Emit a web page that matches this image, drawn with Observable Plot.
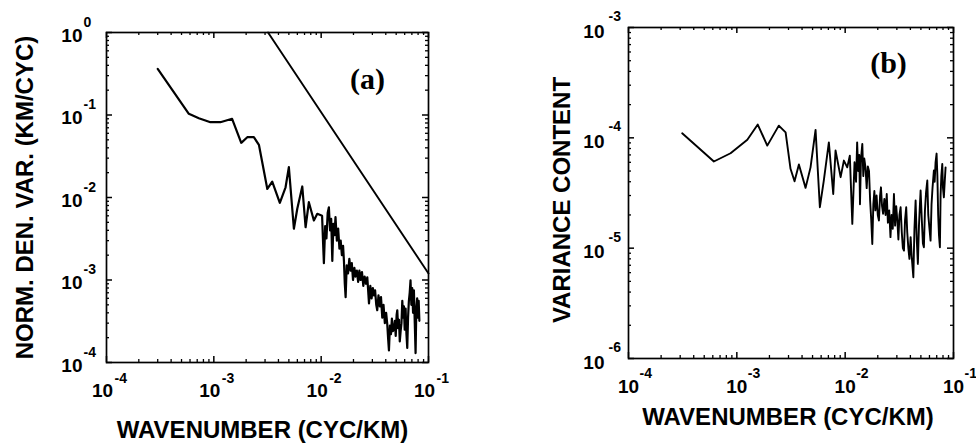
<!DOCTYPE html>
<html>
<head>
<meta charset="utf-8">
<script src="https://cdn.jsdelivr.net/npm/d3@7"></script>
<script src="https://cdn.jsdelivr.net/npm/@observablehq/plot@0.6"></script>
<style>
  body { margin: 0; background: #fff; }
  #wrap { display: flex; width: 976px; height: 443px; }
  #wrap svg { overflow: visible; }
</style>
</head>
<body>
<div id="wrap"></div>
<script>
// ---------- tick values and labels ----------
const xTicks = [1e-4, 1e-3, 1e-2, 1e-1];
const xTickExp = ["-4", "-3", "-2", "-1"];
const yTicksA = [1e-4, 1e-3, 1e-2, 1e-1, 1];
const yTickExpA = ["-4", "-3", "-2", "-1", "0"];
const yTicksB = [1e-6, 1e-5, 1e-4, 1e-3];
const yTickExpB = ["-6", "-5", "-4", "-3"];

// ---------- panel (a): normalized density variance spectrum ----------
const waveA = [3.0e-4, 5.85e-4, 7.25e-4, 9.3e-4, 1.15e-3, 1.48e-3, 1.80e-3, 2.05e-3, 2.36e-3, 2.63e-3,
  3.15e-3, 3.50e-3, 4.12e-3, 4.66e-3, 5.0e-3, 5.57e-3, 5.99e-3, 6.67e-3, 7.16e-3, 7.68e-3, 8.55e-3, 9.2e-3,
  0.0102, 0.0104, 0.0106, 0.0109, 0.0112, 0.0115, 0.0118, 0.0121, 0.0124, 0.0127, 0.0130, 0.0133, 0.0136,
  0.0140, 0.0144, 0.0148, 0.0152, 0.0156, 0.0160, 0.0163, 0.0166, 0.0169, 0.0173, 0.0178, 0.0183, 0.0188,
  0.0193, 0.0198, 0.0204, 0.0209, 0.0215, 0.0221, 0.0227, 0.0233, 0.0240, 0.0247, 0.0254, 0.0262, 0.0269,
  0.0279, 0.0287, 0.0295, 0.0303, 0.0310, 0.0318, 0.0326, 0.0333, 0.0342, 0.0352, 0.0361, 0.0371, 0.0381,
  0.0392, 0.0403, 0.0413, 0.0420, 0.0428, 0.0437, 0.0447, 0.0456, 0.0466, 0.0476, 0.0486, 0.0495, 0.0505,
  0.0512, 0.0521, 0.0531, 0.0540, 0.0550, 0.0560, 0.0570, 0.0580, 0.0590, 0.0600, 0.0612, 0.0623, 0.0634,
  0.0645, 0.0656, 0.0668, 0.0680, 0.0692, 0.0705, 0.0718, 0.0731, 0.0745, 0.0758, 0.0770, 0.0784, 0.0797,
  0.0810, 0.0822];
const specA = [0.363, 0.1035, 0.0915, 0.0818, 0.0818, 0.090, 0.046, 0.0538, 0.0538, 0.0435,
  0.0127, 0.0156, 0.00863, 0.0133, 0.0233, 0.00418, 0.0073, 0.0136, 0.00436, 0.00877, 0.00526, 0.00634,
  6.0e-3, 3.0e-3, 1.6e-3, 4.5e-3, 3.2e-3, 6.5e-3, 7.6e-3, 4.0e-3, 5.5e-3, 1.7e-3, 4.8e-3, 3.5e-3, 5.8e-3,
  3.0e-3, 4.2e-3, 2.4e-3, 3.0e-3, 2.0e-3, 2.6e-3, 1.7e-3, 9.0e-4, 6.2e-4, 1.5e-3, 1.2e-3, 1.8e-3, 1.3e-3,
  1.6e-3, 1.0e-3, 1.4e-3, 1.1e-3, 1.3e-3, 9.5e-4, 1.3e-3, 1.0e-3, 1.25e-3, 8.5e-4, 1.1e-3, 9.0e-4, 1.08e-3,
  5.2e-4, 8.5e-4, 6.0e-4, 8.0e-4, 6.5e-4, 7.5e-4, 5.0e-4, 4.3e-4, 6.5e-4, 4.8e-4, 6.2e-4, 3.5e-4, 5.0e-4,
  3.0e-4, 4.0e-4, 2.9e-4, 2.0e-4, 1.4e-4, 2.8e-4, 2.2e-4, 3.4e-4, 2.4e-4, 2.5e-4, 3.2e-4, 2.1e-4, 3.8e-4,
  4.3e-4, 2.6e-4, 3.3e-4, 1.8e-4, 2.4e-4, 3.0e-4, 5.6e-4, 3.5e-4, 4.8e-4, 2.5e-4, 4.5e-4, 2.2e-4, 1.5e-4,
  3.5e-4, 5.5e-4, 7.0e-4, 9.9e-4, 5.0e-4, 8.0e-4, 4.0e-4, 7.5e-4, 3.0e-4, 1.3e-4, 4.5e-4, 6.0e-4, 3.5e-4,
  5.6e-4, 3.2e-4];

// reference power-law line in panel (a)
const refWave = [3.2e-3, 0.1];
const refSpec = [1.0, 1.2e-3];

// ---------- panel (b): variance content ----------
const waveB = [3.13e-4, 6.14e-4, 8.75e-4, 1.25e-3, 1.56e-3, 1.91e-3, 2.44e-3, 2.82e-3, 3.13e-3, 3.41e-3,
  3.74e-3, 4.31e-3, 4.79e-3, 5.33e-3, 5.84e-3, 6.35e-3, 7.07e-3, 7.76e-3, 8.15e-3, 9.08e-3, 9.73e-3,
  0.01045, 0.01104, 0.01164,
  0.0122, 0.0126, 0.0129, 0.0132, 0.0135, 0.0137, 0.0140, 0.0144, 0.0147, 0.0150, 0.0154, 0.0158, 0.0162,
  0.0166, 0.0170, 0.0174, 0.0178, 0.0182, 0.0186, 0.0190, 0.0195, 0.0200, 0.0205, 0.0210, 0.0214, 0.0219,
  0.0224, 0.0230, 0.0236, 0.0242, 0.0248, 0.0255, 0.0262, 0.0268, 0.0275, 0.0282, 0.0289, 0.0296, 0.0303,
  0.0310, 0.0317, 0.0325, 0.0333, 0.0341, 0.0349, 0.0357, 0.0366, 0.0374, 0.0383, 0.0392, 0.0402, 0.0411,
  0.0420, 0.0426, 0.0436, 0.0447, 0.0458, 0.0469, 0.0480, 0.0490, 0.0497, 0.0510, 0.0522, 0.0533, 0.0545,
  0.0558, 0.0573, 0.0585, 0.0600, 0.0614, 0.0627, 0.0640, 0.0659, 0.0670, 0.0683, 0.0698, 0.0710, 0.0722,
  0.0735, 0.0749, 0.0760, 0.0772, 0.0788, 0.0800, 0.0815, 0.0830, 0.0845];
const varB = [1.10e-4, 6.1e-5, 7.25e-5, 9.6e-5, 1.32e-4, 8.5e-5, 1.29e-4, 1.12e-4, 5.24e-5, 4.04e-5,
  5.73e-5, 3.52e-5, 5.4e-5, 1.18e-4, 2.35e-5, 4.1e-5, 9.1e-5, 3.1e-5, 7.67e-5, 4.4e-5, 6.22e-5,
  5.4e-5, 6.9e-5, 1.66e-5,
  6.0e-5, 4.0e-5, 9.1e-5, 5.0e-5, 7.0e-5, 2.5e-5, 6.5e-5, 8.8e-5, 4.5e-5, 6.5e-5, 5.4e-5, 3.5e-5, 5.5e-5,
  5.0e-5, 2.7e-5, 1.8e-5, 1.09e-5, 2.5e-5, 3.3e-5, 2.2e-5, 3.0e-5, 2.0e-5, 1.78e-5, 3.0e-5, 3.56e-5, 2.4e-5,
  2.05e-5, 2.8e-5, 2.0e-5, 3.1e-5, 1.7e-5, 2.2e-5, 1.26e-5, 2.0e-5, 1.5e-5, 3.1e-5, 1.6e-5, 2.4e-5, 1.78e-5,
  1.2e-5, 2.0e-5, 2.35e-5, 1.4e-5, 1.0e-5, 9.5e-6, 1.8e-5, 2.35e-5, 1.4e-5, 1.0e-5, 8.0e-6, 1.26e-5, 8.5e-6,
  6.5e-6, 5.45e-6, 1.5e-5, 2.7e-5, 1.2e-5, 7.2e-6, 1.6e-5, 2.5e-5, 3.33e-5, 1.8e-5, 1.1e-5, 1.02e-5, 2.2e-5,
  3.2e-5, 4.1e-5, 2.0e-5, 1.5e-5, 1.17e-5, 2.5e-5, 3.5e-5, 5.05e-5, 4.0e-5, 6.0e-5, 7.2e-5, 4.5e-5, 2.0e-5,
  1.3e-5, 1.02e-5, 3.0e-5, 4.5e-5, 5.8e-5, 3.5e-5, 2.89e-5, 4.0e-5, 5.4e-5];

// ---------- texts ----------
const xTitle = "WAVENUMBER (CYC/KM)";
const yTitleA = "NORM. DEN. VAR. (KM/CYC)";
const yTitleB = "VARIANCE CONTENT";
const tagA = "(a)";
const tagB = "(b)";

// ---------- helpers ----------
const FONT = "'Liberation Sans', Arial, Helvetica, sans-serif";
const SERIF = "'Liberation Serif', 'Times New Roman', serif";
const W = 488, H = 443;

function minors(lo, hi) {
  const out = [];
  for (let e = lo; e < hi; e++) for (let m = 2; m <= 9; m++) out.push(m * Math.pow(10, e));
  return out;
}

function frameTicks(xMaj, xMin, yMaj, yMin, iw, ih) {
  const L = 6, S = 3;
  return [
    Plot.tickX(xMaj, {x: d => d, insetTop: ih - L, strokeWidth: 1.5}),
    Plot.tickX(xMaj, {x: d => d, insetBottom: ih - L, strokeWidth: 1.5}),
    Plot.tickX(xMin, {x: d => d, insetTop: ih - S, strokeWidth: 1.3}),
    Plot.tickX(xMin, {x: d => d, insetBottom: ih - S, strokeWidth: 1.3}),
    Plot.tickY(yMaj, {y: d => d, insetRight: iw - L, strokeWidth: 1.5}),
    Plot.tickY(yMaj, {y: d => d, insetLeft: iw - L, strokeWidth: 1.5}),
    Plot.tickY(yMin, {y: d => d, insetRight: iw - S, strokeWidth: 1.3}),
    Plot.tickY(yMin, {y: d => d, insetLeft: iw - S, strokeWidth: 1.3})
  ];
}

const base = {fontFamily: FONT, fontWeight: "bold", fill: "black", lineAnchor: "middle"};

function tickLabels(o) {
  return [
    Plot.text(xTicks, {...base, x: d => d, frameAnchor: "bottom", text: () => "10",
      dx: o.xdx, dy: o.xdy, fontSize: 19, textAnchor: "middle"}),
    Plot.text(xTicks, {...base, x: d => d, frameAnchor: "bottom", text: (d, i) => xTickExp[i],
      dx: o.xsdx, dy: o.xsdy, fontSize: 14, textAnchor: "start"}),
    Plot.text(o.yTicks, {...base, y: d => d, frameAnchor: "left", text: () => "10",
      dx: o.ydx, dy: o.ydy, fontSize: 19, textAnchor: "end"}),
    Plot.text(o.yTicks, {...base, y: d => d, frameAnchor: "left", text: (d, i) => o.yExp[i],
      dx: o.ysdx, dy: o.ysdy, fontSize: 14, textAnchor: "start"})
  ];
}

// ---------- panel (a) ----------
const mA = {l: 106, r: 60, t: 32, b: 81};
const iwA = W - mA.l - mA.r, ihA = H - mA.t - mA.b;
const plotA = Plot.plot({
  width: W, height: H,
  marginLeft: mA.l, marginRight: mA.r, marginTop: mA.t, marginBottom: mA.b,
  style: {fontFamily: FONT, background: "white", color: "black"},
  x: {type: "log", domain: [1e-4, 1e-1], axis: null},
  y: {type: "log", domain: [1e-4, 1], axis: null},
  marks: [
    Plot.line(waveA.map((w, i) => ({w, v: specA[i]})), {x: "w", y: "v", stroke: "black", strokeWidth: 2.2, strokeLinejoin: "round"}),
    Plot.line(refWave.map((w, i) => ({w, v: refSpec[i]})), {x: "w", y: "v", stroke: "black", strokeWidth: 1.9}),
    ...frameTicks(xTicks, minors(-4, -1), yTicksA, minors(-4, 0), iwA, ihA),
    Plot.frame({stroke: "black", strokeWidth: 1.7}),
    ...tickLabels({yTicks: yTicksA, yExp: yTickExpA,
      xdx: -4, xdy: 28, xsdx: 8, xsdy: 16,
      ydx: -24, ydy: 3, ysdx: -23, ysdy: -10}),
    Plot.text([yTitleA], {...base, text: d => d, frameAnchor: "left", textAnchor: "middle", rotate: -90,
      dx: -81, dy: 0, fontSize: 24}),
    Plot.text([xTitle], {...base, text: d => d, frameAnchor: "bottom", textAnchor: "middle",
      dx: -5, dy: 68, fontSize: 24}),
    Plot.text([tagA], {...base, text: d => d, frameAnchor: "top-right", textAnchor: "middle",
      dx: -61, dy: 47, fontSize: 30, fontFamily: SERIF})
  ]
});

// ---------- panel (b) ----------
const mB = {l: 140, r: 23, t: 27, b: 85};
const iwB = W - mB.l - mB.r, ihB = H - mB.t - mB.b;
const plotB = Plot.plot({
  width: W, height: H,
  marginLeft: mB.l, marginRight: mB.r, marginTop: mB.t, marginBottom: mB.b,
  style: {fontFamily: FONT, background: "white", color: "black"},
  x: {type: "log", domain: [1e-4, 1e-1], axis: null},
  y: {type: "log", domain: [1e-6, 1e-3], axis: null},
  marks: [
    Plot.line(waveB.map((w, i) => ({w, v: varB[i]})), {x: "w", y: "v", stroke: "black", strokeWidth: 1.9, strokeLinejoin: "round"}),
    ...frameTicks(xTicks, minors(-4, -1), yTicksB, minors(-6, -3), iwB, ihB),
    Plot.frame({stroke: "black", strokeWidth: 1.7}),
    ...tickLabels({yTicks: yTicksB, yExp: yTickExpB,
      xdx: 0, xdy: 28, xsdx: 11, xsdy: 15,
      ydx: -24, ydy: 4, ysdx: -20, ysdy: -11}),
    Plot.text([yTitleB], {...base, text: d => d, frameAnchor: "left", textAnchor: "middle", rotate: -90,
      dx: -66, dy: 7, fontSize: 24}),
    Plot.text([xTitle], {...base, text: d => d, frameAnchor: "bottom", textAnchor: "middle",
      dx: -3, dy: 59, fontSize: 24}),
    Plot.text([tagB], {...base, text: d => d, frameAnchor: "top-right", textAnchor: "middle",
      dx: -65, dy: 36, fontSize: 30, fontFamily: SERIF})
  ]
});

const wrap = document.getElementById("wrap");
wrap.appendChild(plotA);
wrap.appendChild(plotB);
</script>
</body>
</html>
